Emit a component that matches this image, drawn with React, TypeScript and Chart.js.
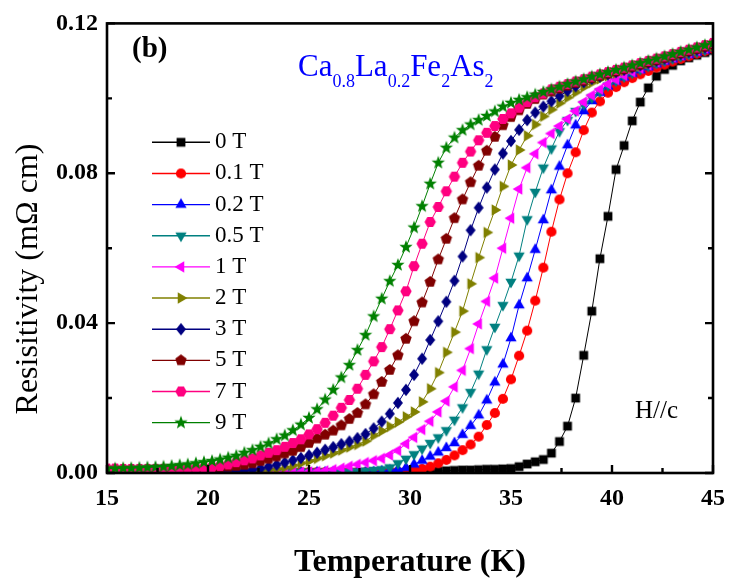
import { useEffect, useRef } from 'react';
import { Chart, registerables } from 'chart.js';

Chart.register(...registerables);

// ---------- data ----------
const temps = [
  15.0, 15.4, 15.8, 16.2, 16.6, 17.0, 17.4, 17.8, 18.2, 18.6,
  19.0, 19.4, 19.8, 20.2, 20.6, 21.0, 21.4, 21.8, 22.2, 22.6,
  23.0, 23.4, 23.8, 24.2, 24.6, 25.0, 25.4, 25.8, 26.2, 26.6,
  27.0, 27.4, 27.8, 28.2, 28.6, 29.0, 29.4, 29.8, 30.2, 30.6,
  31.0, 31.4, 31.8, 32.2, 32.6, 33.0, 33.4, 33.8, 34.2, 34.6,
  35.0, 35.4, 35.8, 36.2, 36.6, 37.0, 37.4, 37.8, 38.2, 38.6,
  39.0, 39.4, 39.8, 40.2, 40.6, 41.0, 41.4, 41.8, 42.2, 42.6,
  43.0, 43.4, 43.8, 44.2, 44.6, 45.0,
];

const rho0T = [
  0.0001, 0.0001, 0.0001, 0.0001, 0.0001, 0.0001, 0.0001, 0.0001, 0.0001, 0.0001,
  0.0001, 0.0001, 0.0001, 0.0001, 0.0001, 0.0001, 0.0001, 0.0001, 0.0001, 0.0001,
  0.0001, 0.0001, 0.0001, 0.0001, 0.0001, 0.0001, 0.0001, 0.0001, 0.0001, 0.0001,
  0.0001, 0.0001, 0.0001, 0.0001, 0.0001, 0.0001, 0.0001, 0.0001, 0.0002, 0.0003,
  0.0004, 0.0005, 0.0006, 0.0007, 0.0008, 0.0008, 0.0009, 0.0010, 0.0010, 0.0011,
  0.0012, 0.0017, 0.0024, 0.0030, 0.0036, 0.0053, 0.0084, 0.0125, 0.0200, 0.0314,
  0.0432, 0.0572, 0.0685, 0.0810, 0.0874, 0.0940, 0.0990, 0.1028, 0.1059, 0.1077,
  0.1088, 0.1100, 0.1108, 0.1115, 0.1122, 0.1128,
];

const rho01T = [
  0.0002, 0.0002, 0.0002, 0.0002, 0.0002, 0.0002, 0.0002, 0.0002, 0.0002, 0.0002,
  0.0002, 0.0002, 0.0002, 0.0002, 0.0002, 0.0002, 0.0002, 0.0002, 0.0002, 0.0002,
  0.0002, 0.0002, 0.0002, 0.0002, 0.0002, 0.0002, 0.0002, 0.0002, 0.0002, 0.0002,
  0.0002, 0.0002, 0.0002, 0.0002, 0.0002, 0.0002, 0.0003, 0.0004, 0.0007, 0.0011,
  0.0017, 0.0026, 0.0035, 0.0047, 0.0061, 0.0076, 0.0097, 0.0128, 0.0160, 0.0198,
  0.0250, 0.0313, 0.0380, 0.0460, 0.0548, 0.0644, 0.0730, 0.0800, 0.0856, 0.0915,
  0.0962, 0.0992, 0.1015, 0.1030, 0.1043, 0.1054, 0.1064, 0.1073, 0.1082, 0.1090,
  0.1098, 0.1105, 0.1112, 0.1119, 0.1126, 0.1132,
];

const rho02T = [
  0.0002, 0.0002, 0.0002, 0.0002, 0.0002, 0.0002, 0.0002, 0.0002, 0.0002, 0.0002,
  0.0002, 0.0002, 0.0002, 0.0002, 0.0002, 0.0002, 0.0002, 0.0002, 0.0002, 0.0002,
  0.0002, 0.0002, 0.0002, 0.0002, 0.0002, 0.0002, 0.0002, 0.0002, 0.0002, 0.0002,
  0.0002, 0.0002, 0.0002, 0.0003, 0.0005, 0.0007, 0.0010, 0.0014, 0.0023, 0.0033,
  0.0044, 0.0055, 0.0067, 0.0080, 0.0102, 0.0126, 0.0154, 0.0194, 0.0242, 0.0290,
  0.0360, 0.0448, 0.0520, 0.0596, 0.0675, 0.0755, 0.0818, 0.0875, 0.0928, 0.0966,
  0.0993, 0.1015, 0.1032, 0.1045, 0.1056, 0.1066, 0.1075, 0.1083, 0.1091, 0.1098,
  0.1104, 0.1110, 0.1116, 0.1122, 0.1128, 0.1134,
];

const rho05T = [
  0.0002, 0.0002, 0.0002, 0.0002, 0.0002, 0.0002, 0.0002, 0.0002, 0.0002, 0.0002,
  0.0002, 0.0002, 0.0002, 0.0002, 0.0002, 0.0002, 0.0002, 0.0002, 0.0002, 0.0002,
  0.0002, 0.0002, 0.0002, 0.0002, 0.0002, 0.0002, 0.0002, 0.0002, 0.0002, 0.0002,
  0.0003, 0.0004, 0.0006, 0.0008, 0.0010, 0.0015, 0.0026, 0.0038, 0.0050, 0.0065,
  0.0080, 0.0095, 0.0114, 0.0142, 0.0175, 0.0216, 0.0265, 0.0330, 0.0390, 0.0448,
  0.0510, 0.0580, 0.0677, 0.0750, 0.0815, 0.0866, 0.0912, 0.0942, 0.0966, 0.0984,
  0.1002, 0.1018, 0.1034, 0.1047, 0.1058, 0.1068, 0.1077, 0.1086, 0.1094, 0.1100,
  0.1106, 0.1112, 0.1118, 0.1124, 0.1130, 0.1136,
];

const rho1T = [
  0.0002, 0.0002, 0.0002, 0.0002, 0.0002, 0.0002, 0.0002, 0.0002, 0.0002, 0.0002,
  0.0002, 0.0002, 0.0002, 0.0002, 0.0002, 0.0002, 0.0002, 0.0002, 0.0002, 0.0002,
  0.0002, 0.0002, 0.0002, 0.0002, 0.0002, 0.0003, 0.0004, 0.0006, 0.0009, 0.0013,
  0.0018, 0.0023, 0.0028, 0.0033, 0.0039, 0.0048, 0.0060, 0.0078, 0.0095, 0.0116,
  0.0138, 0.0163, 0.0192, 0.0230, 0.0274, 0.0332, 0.0398, 0.0458, 0.0520, 0.0600,
  0.0680, 0.0758, 0.0815, 0.0852, 0.0882, 0.0906, 0.0926, 0.0945, 0.0966, 0.0990,
  0.1008, 0.1024, 0.1038, 0.1050, 0.1061, 0.1071, 0.1080, 0.1089, 0.1097, 0.1104,
  0.1110, 0.1116, 0.1122, 0.1128, 0.1134, 0.1140,
];

const rho2T = [
  0.0002, 0.0002, 0.0002, 0.0002, 0.0002, 0.0002, 0.0002, 0.0002, 0.0002, 0.0002,
  0.0002, 0.0002, 0.0002, 0.0002, 0.0002, 0.0002, 0.0003, 0.0003, 0.0004, 0.0006,
  0.0008, 0.0011, 0.0015, 0.0020, 0.0026, 0.0032, 0.0039, 0.0046, 0.0053, 0.0061,
  0.0069, 0.0076, 0.0085, 0.0100, 0.0112, 0.0124, 0.0136, 0.0150, 0.0163, 0.0190,
  0.0225, 0.0268, 0.0322, 0.0376, 0.0432, 0.0505, 0.0575, 0.0642, 0.0702, 0.0765,
  0.0822, 0.0862, 0.0900, 0.0930, 0.0952, 0.0970, 0.0987, 0.1002, 0.1016, 0.1030,
  0.1042, 0.1052, 0.1060, 0.1067, 0.1074, 0.1080, 0.1086, 0.1092, 0.1098, 0.1104,
  0.1110, 0.1116, 0.1122, 0.1128, 0.1134, 0.1140,
];

const rho3T = [
  0.0003, 0.0003, 0.0003, 0.0003, 0.0003, 0.0003, 0.0003, 0.0003, 0.0003, 0.0003,
  0.0003, 0.0003, 0.0004, 0.0004, 0.0004, 0.0005, 0.0005, 0.0006, 0.0008, 0.0012,
  0.0017, 0.0022, 0.0028, 0.0034, 0.0040, 0.0047, 0.0054, 0.0062, 0.0069, 0.0077,
  0.0084, 0.0093, 0.0104, 0.0119, 0.0137, 0.0158, 0.0187, 0.0222, 0.0262, 0.0305,
  0.0355, 0.0405, 0.0457, 0.0513, 0.0578, 0.0648, 0.0708, 0.0762, 0.0810, 0.0853,
  0.0886, 0.0916, 0.0942, 0.0962, 0.0978, 0.0992, 0.1006, 0.1020, 0.1032, 0.1043,
  0.1052, 0.1058, 0.1064, 0.1070, 0.1076, 0.1082, 0.1088, 0.1094, 0.1100, 0.1106,
  0.1112, 0.1118, 0.1124, 0.1130, 0.1136, 0.1142,
];

const rho5T = [
  0.0008, 0.0008, 0.0008, 0.0008, 0.0008, 0.0008, 0.0008, 0.0009, 0.0009, 0.0009,
  0.0010, 0.0011, 0.0012, 0.0013, 0.0015, 0.0017, 0.0019, 0.0022, 0.0026, 0.0032,
  0.0038, 0.0044, 0.0052, 0.0059, 0.0069, 0.0080, 0.0092, 0.0102, 0.0113, 0.0127,
  0.0144, 0.0160, 0.0183, 0.0210, 0.0243, 0.0275, 0.0314, 0.0358, 0.0405, 0.0455,
  0.0510, 0.0570, 0.0625, 0.0680, 0.0730, 0.0776, 0.0820, 0.0860, 0.0897, 0.0928,
  0.0950, 0.0968, 0.0985, 0.0998, 0.1010, 0.1018, 0.1026, 0.1034, 0.1041, 0.1047,
  0.1054, 0.1060, 0.1066, 0.1072, 0.1078, 0.1084, 0.1090, 0.1096, 0.1102, 0.1108,
  0.1114, 0.1120, 0.1126, 0.1132, 0.1138, 0.1144,
];

const rho7T = [
  0.0012, 0.0012, 0.0011, 0.0011, 0.0011, 0.0011, 0.0011, 0.0011, 0.0011, 0.0012,
  0.0012, 0.0013, 0.0014, 0.0016, 0.0019, 0.0023, 0.0029, 0.0034, 0.0039, 0.0047,
  0.0054, 0.0061, 0.0070, 0.0080, 0.0090, 0.0103, 0.0117, 0.0134, 0.0153, 0.0174,
  0.0195, 0.0225, 0.0262, 0.0298, 0.0336, 0.0384, 0.0434, 0.0485, 0.0552, 0.0612,
  0.0670, 0.0710, 0.0752, 0.0791, 0.0828, 0.0858, 0.0888, 0.0908, 0.0926, 0.0945,
  0.0960, 0.0975, 0.0990, 0.1003, 0.1013, 0.1024, 0.1031, 0.1038, 0.1045, 0.1051,
  0.1058, 0.1064, 0.1070, 0.1076, 0.1082, 0.1088, 0.1094, 0.1100, 0.1106, 0.1112,
  0.1118, 0.1124, 0.1130, 0.1136, 0.1142, 0.1148,
];

const rho9T = [
  0.0012, 0.0012, 0.0013, 0.0013, 0.0014, 0.0015, 0.0016, 0.0017, 0.0019, 0.0021,
  0.0023, 0.0026, 0.0029, 0.0032, 0.0036, 0.0041, 0.0046, 0.0054, 0.0061, 0.0070,
  0.0079, 0.0090, 0.0100, 0.0114, 0.0129, 0.0147, 0.0170, 0.0196, 0.0222, 0.0255,
  0.0288, 0.0328, 0.0368, 0.0418, 0.0465, 0.0512, 0.0555, 0.0603, 0.0655, 0.0712,
  0.0772, 0.0828, 0.0868, 0.0895, 0.0915, 0.0930, 0.0942, 0.0953, 0.0965, 0.0978,
  0.0988, 0.0996, 0.1003, 0.1010, 0.1017, 0.1024, 0.1031, 0.1038, 0.1045, 0.1051,
  0.1058, 0.1064, 0.1070, 0.1076, 0.1082, 0.1088, 0.1094, 0.1100, 0.1106, 0.1112,
  0.1118, 0.1124, 0.1130, 0.1136, 0.1142, 0.1148,
];

const fieldLabels = ['0 T', '0.1 T', '0.2 T', '0.5 T', '1 T', '2 T', '3 T', '5 T', '7 T', '9 T'];
const seriesValues = [rho0T, rho01T, rho02T, rho05T, rho1T, rho2T, rho3T, rho5T, rho7T, rho9T];
const seriesColors = ['#000000', '#FF0000', '#0000FF', '#008080', '#FF00FF', '#808000', '#000080', '#800000', '#FF0080', '#008000'];
const markerShapes = ['square', 'circle', 'triUp', 'triDown', 'triLeft', 'triRight', 'diamond', 'pentagon', 'hexagon', 'star'];

const xMajorTicks = [15, 20, 25, 30, 35, 40, 45];
const xMinorTicks = [17.5, 22.5, 27.5, 32.5, 37.5, 42.5];
const yMajorTicks = [0, 0.04, 0.08, 0.12];
const yMinorTicks = [0.02, 0.06, 0.1];

const xTitle = 'Temperature (K)';
const yTitle = 'Resisitivity (mΩ cm)';
const panelLabel = '(b)';
const fieldNote = 'H//c';
const formulaParts: [string, boolean][] = [
  ['Ca', false], ['0.8', true], ['La', false], ['0.2', true],
  ['Fe', false], ['2', true], ['As', false], ['2', true],
];

const SERIF = "'Liberation Serif', 'Times New Roman', serif";

function makeMarker(shape: string, color: string): HTMLCanvasElement {
  const c = document.createElement('canvas');
  c.width = 18;
  c.height = 18;
  const g = c.getContext('2d')!;
  g.fillStyle = color;
  g.translate(9, 9);
  g.beginPath();
  const poly = (pts: number[][]) => {
    pts.forEach(([x, y], i) => (i ? g.lineTo(x, y) : g.moveTo(x, y)));
    g.closePath();
  };
  const reg = (n: number, r: number, a0: number) => {
    const pts: number[][] = [];
    for (let i = 0; i < n; i++) {
      const a = a0 + (i * 2 * Math.PI) / n;
      pts.push([r * Math.cos(a), r * Math.sin(a)]);
    }
    poly(pts);
  };
  switch (shape) {
    case 'square':
      g.rect(-4.4, -4.4, 8.8, 8.8);
      break;
    case 'circle':
      g.arc(0, 0, 5.1, 0, Math.PI * 2);
      break;
    case 'triUp':
      reg(3, 6.5, -Math.PI / 2);
      break;
    case 'triDown':
      reg(3, 6.5, Math.PI / 2);
      break;
    case 'triLeft':
      reg(3, 6.5, Math.PI);
      break;
    case 'triRight':
      reg(3, 6.5, 0);
      break;
    case 'diamond':
      poly([[0, -6.2], [5, 0], [0, 6.2], [-5, 0]]);
      break;
    case 'pentagon':
      reg(5, 6, -Math.PI / 2);
      break;
    case 'hexagon':
      reg(6, 5.7, 0);
      break;
    case 'star': {
      const pts: number[][] = [];
      for (let i = 0; i < 10; i++) {
        const r = i % 2 === 0 ? 7 : 2.9;
        const a = -Math.PI / 2 + (i * Math.PI) / 5;
        pts.push([r * Math.cos(a), r * Math.sin(a)]);
      }
      poly(pts);
      break;
    }
  }
  g.fill();
  return c;
}

export default function App() {
  const canvasRef = useRef<HTMLCanvasElement | null>(null);

  useEffect(() => {
    document.body.style.margin = '0';
    const canvas = canvasRef.current;
    if (!canvas) return;

    const markers = markerShapes.map((s, i) => makeMarker(s, seriesColors[i]));

    const decor = {
      id: 'decor',
      afterDraw(chart: any) {
        const ctx = chart.ctx as CanvasRenderingContext2D;
        const xs = chart.scales.x;
        const ys = chart.scales.y;
        const { left, right, top, bottom } = chart.chartArea;
        ctx.save();

        // frame
        ctx.strokeStyle = '#000';
        ctx.lineWidth = 2.6;
        ctx.strokeRect(left, top, right - left, bottom - top);

        // inward ticks
        ctx.lineWidth = 2.4;
        ctx.beginPath();
        const xt = (vals: number[], len: number) => {
          vals.forEach((v) => {
            const px = xs.getPixelForValue(v);
            ctx.moveTo(px, bottom);
            ctx.lineTo(px, bottom - len);
          });
        };
        const yt = (vals: number[], len: number) => {
          vals.forEach((v) => {
            const py = ys.getPixelForValue(v);
            ctx.moveTo(left, py);
            ctx.lineTo(left + len, py);
            ctx.moveTo(right, py);
            ctx.lineTo(right - len, py);
          });
        };
        xt(xMajorTicks, 8);
        xt(xMinorTicks, 5);
        yt(yMajorTicks, 8);
        yt(yMinorTicks, 5);
        ctx.stroke();

        // legend
        const legY0 = 142.3;
        const legDy = 31.15;
        fieldLabels.forEach((lab, i) => {
          const y = legY0 + i * legDy;
          ctx.strokeStyle = seriesColors[i];
          ctx.lineWidth = 1.4;
          ctx.beginPath();
          ctx.moveTo(152, y);
          ctx.lineTo(210, y);
          ctx.stroke();
          const m = markers[i];
          ctx.drawImage(m, 181 - m.width / 2, y - m.height / 2);
          ctx.fillStyle = '#000';
          ctx.font = `23px ${SERIF}`;
          ctx.textAlign = 'left';
          ctx.textBaseline = 'middle';
          ctx.fillText(lab, 215, y);
        });

        // panel label
        ctx.fillStyle = '#000';
        ctx.textBaseline = 'alphabetic';
        ctx.textAlign = 'left';
        ctx.font = `bold 29px ${SERIF}`;
        ctx.fillText(panelLabel, 132, 57);

        // formula with subscripts
        ctx.fillStyle = '#0000FF';
        let fx = 298;
        formulaParts.forEach(([t, sub]) => {
          ctx.font = sub ? `18px ${SERIF}` : `31px ${SERIF}`;
          ctx.fillText(t, fx, sub ? 87 : 75.5);
          fx += ctx.measureText(t).width;
        });

        // field note
        ctx.fillStyle = '#000';
        ctx.font = `25px ${SERIF}`;
        ctx.fillText(fieldNote, 635, 418);

        // axis titles
        ctx.font = `bold 32px ${SERIF}`;
        ctx.textAlign = 'center';
        ctx.fillText(xTitle, (left + right) / 2, 571);

        ctx.save();
        ctx.translate(37, 279);
        ctx.rotate(-Math.PI / 2);
        ctx.font = `32px ${SERIF}`;
        ctx.textAlign = 'center';
        ctx.fillText(yTitle, 0, 0);
        ctx.restore();

        ctx.restore();
      },
    };

    const tickFont = { family: SERIF, size: 24, weight: 'bold' as const };

    const chart = new Chart(canvas, {
      type: 'line',
      data: {
        datasets: fieldLabels.map((lab, i) => ({
          label: lab,
          data: temps.map((t, k) => ({ x: t, y: seriesValues[i][k] })),
          borderColor: seriesColors[i],
          backgroundColor: seriesColors[i],
          borderWidth: 1,
          pointStyle: markers[i] as any,
          pointRadius: 5,
          pointHoverRadius: 5,
          tension: 0,
          order: 10 - i,
        })),
      },
      options: {
        animation: false,
        responsive: false,
        maintainAspectRatio: false,
        events: [],
        layout: { padding: { top: 20, right: 16, left: 0, bottom: 0 } },
        plugins: {
          legend: { display: false },
          tooltip: { enabled: false },
        },
        scales: {
          x: {
            type: 'linear',
            min: 15,
            max: 45,
            grid: { display: false, drawTicks: false },
            border: { display: false },
            ticks: {
              stepSize: 5,
              padding: 11,
              color: '#000',
              font: tickFont,
              maxRotation: 0,
            },
            afterFit: (s: any) => {
              s.height = 109;
            },
          },
          y: {
            type: 'linear',
            min: 0,
            max: 0.12,
            grid: { display: false, drawTicks: false },
            border: { display: false },
            ticks: {
              stepSize: 0.04,
              padding: 9,
              color: '#000',
              font: tickFont,
              callback: (v: any) => Number(v).toFixed(2),
            },
            afterFit: (s: any) => {
              s.width = 107;
            },
          },
        },
      },
      plugins: [decor],
    });

    return () => {
      chart.destroy();
    };
  }, []);

  return (
    <div style={{ width: 736, height: 582, background: '#fff' }}>
      <canvas ref={canvasRef} width={736} height={582} style={{ display: 'block' }} />
    </div>
  );
}
